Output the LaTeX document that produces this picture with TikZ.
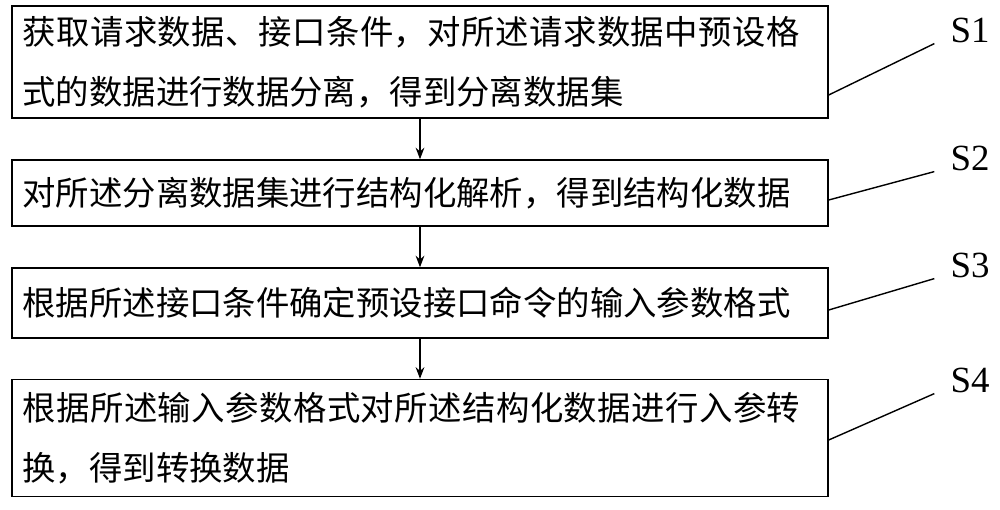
\documentclass[tikz,border=0pt]{standalone}
\usepackage{fontspec}
\newfontfamily\cjk{Noto Sans CJK SC}
\setmainfont{Liberation Serif}
\XeTeXlinebreaklocale "zh"
\XeTeXlinebreakskip = 0pt plus 1pt
\usetikzlibrary{positioning, arrows.meta}
\tikzset{>=Stealth,
         stepbox/.style={draw, thick, minimum width=16.32cm, text width=15.9cm, align=left,
                         font=\cjk\fontsize{19}{34}\selectfont, inner sep=0pt},
         steplabel/.style={font=\fontsize{21}{24}\selectfont, anchor=center},
         }
\begin{document}
\begin{tikzpicture}
    \useasboundingbox (0,0) rectangle (20,10.18);
    \node[stepbox, minimum height=2.24cm] (b1) at (8.4,8.94) {获取请求数据、接口条件，对所述请求数据中预设格式的数据进行数据分离，得到分离数据集};
    \node[stepbox, minimum height=1.32cm] (b2) at (8.4,6.32) {对所述分离数据集进行结构化解析，得到结构化数据};
    \node[stepbox, minimum height=1.4cm] (b3) at (8.4,4.12) {根据所述接口条件确定预设接口命令的输入参数格式};
    \node[stepbox, minimum height=2.34cm] (b4) at (8.4,1.42) {根据所述输入参数格式对所述结构化数据进行入参转换，得到转换数据};

    \node[steplabel] (s1) at (19.4,9.58) {S1};
    \node[steplabel] (s2) at (19.4,7.02) {S2};
    \node[steplabel] (s3) at (19.4,4.88) {S3};
    \node[steplabel] (s4) at (19.4,2.58) {S4};

    \draw[thick,->] (b1) -- (b2);
    \draw[thick,->] (b2) -- (b3);
    \draw[thick,->] (b3) -- (b4);

    \draw[thick] ([yshift=-0.66cm]b1.east) -- ([xshift=-0.2cm,yshift=0.1cm]s1.south west);
    \draw[thick] ([yshift=-0.14cm]b2.east) -- ([xshift=-0.2cm,yshift=0.1cm]s2.south west);
    \draw[thick] ([yshift=-0.14cm]b3.east) -- ([xshift=-0.2cm,yshift=0.1cm]s3.south west);
    \draw[thick] ([yshift=-0.04cm]b4.east) -- ([xshift=-0.2cm,yshift=0.1cm]s4.south west);
\end{tikzpicture}
\end{document}
